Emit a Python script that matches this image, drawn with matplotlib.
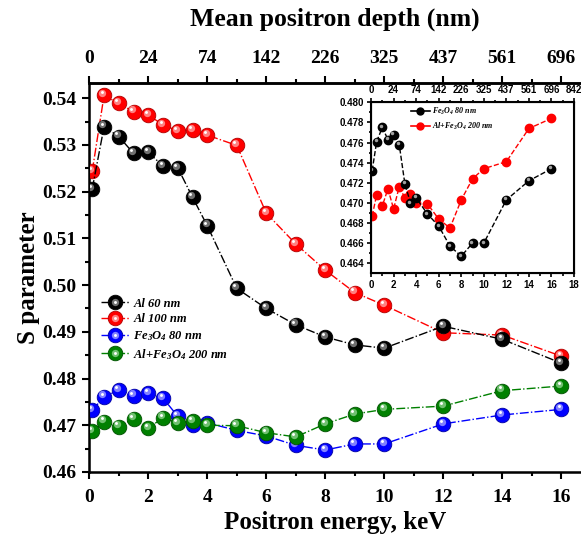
import matplotlib
matplotlib.use("Agg")
import matplotlib.pyplot as plt
from matplotlib.transforms import offset_copy
from matplotlib.legend_handler import HandlerTuple
from matplotlib.lines import Line2D

plt.rcParams['font.family'] = ['Liberation Serif', 'DejaVu Serif']
plt.rcParams['mathtext.default'] = 'regular'

energy = [0.1, 0.5, 1, 1.5, 2, 2.5, 3, 3.5, 4, 5, 6, 7, 8, 9, 10, 12, 14, 16]
al60 = [0.5206, 0.5339, 0.5318, 0.5282, 0.5284, 0.5255, 0.5251, 0.5188, 0.5127,
        0.4993, 0.4950, 0.4915, 0.4889, 0.4872, 0.4865, 0.4912, 0.4884, 0.4833]
al100 = [0.5244, 0.5406, 0.5389, 0.5371, 0.5364, 0.5343, 0.5330, 0.5331, 0.5321,
         0.5299, 0.5154, 0.5088, 0.5032, 0.4984, 0.4957, 0.4898, 0.4893, 0.4848]
fe3o4 = [0.4732, 0.4761, 0.4775, 0.4763, 0.4768, 0.4758, 0.4719, 0.4700, 0.4705,
         0.4689, 0.4677, 0.4657, 0.4647, 0.4660, 0.4660, 0.4703, 0.4722, 0.4734]
alfe = [0.4687, 0.4708, 0.4697, 0.4714, 0.4694, 0.4716, 0.4705, 0.4709, 0.4700,
        0.4699, 0.4684, 0.4675, 0.4703, 0.4724, 0.4734, 0.4741, 0.4774, 0.4784]

labels = ['Al 60 nm', 'Al 100 nm', 'Fe$_{3}$O$_{4}$ 80 nm', 'Al+Fe$_{3}$O$_{4}$ 200 nm']

main_ticks = [0, 2, 4, 6, 8, 10, 12, 14, 16]
depth_labels = ['0', '24', '74', '142', '226', '325', '437', '561', '696']
inset_ticks = [0, 2, 4, 6, 8, 10, 12, 14, 16, 18]
inset_depth_labels = ['0', '24', '74', '142', '226', '325', '437', '561', '696', '842']

fig = plt.figure(figsize=(5.81, 5.44), dpi=100)
ax = fig.add_axes([0.1537, 0.1324, 0.8463, 0.7145])


def sphere(axis, x, y, color, light, dark, ms, ls, z):
    line, = axis.plot(x, y, ls=ls, color=color, lw=1.0, marker='o', ms=ms,
                      mfc=color, mec=dark, mew=0.6, zorder=z)
    tr1 = offset_copy(axis.transData, fig=fig, x=-ms * 0.12, y=ms * 0.16, units='points')
    h1, = axis.plot(x, y, ls='none', marker='o', ms=ms * 0.5, mfc=light, mec='none',
                    transform=tr1, zorder=z + 0.1)
    tr2 = offset_copy(axis.transData, fig=fig, x=-ms * 0.16, y=ms * 0.22, units='points')
    h2, = axis.plot(x, y, ls='none', marker='o', ms=ms * 0.2, mfc='white', mec='none',
                    transform=tr2, zorder=z + 0.2)
    return (line, h1, h2)


h_al100 = sphere(ax, energy, al100, '#ff0000', '#ff8080', '#b00000', 10.5, '-.', 3)
h_al60 = sphere(ax, energy, al60, '#000000', '#707070', '#000000', 10.5, '-.', 4)
h_fe = sphere(ax, energy, fe3o4, '#0000ff', '#8080ff', '#0000a0', 10.5, '-.', 5)
h_alfe = sphere(ax, energy, alfe, '#008000', '#70c070', '#005000', 10.5, '-.', 6)

ax.set_xlim(0, 16.67)
ax.set_ylim(0.46, 0.5432)
ax.set_xticks(main_ticks)
ax.set_xticks([1, 3, 5, 7, 9, 11, 13, 15], minor=True)
ax.set_yticks([0.46, 0.47, 0.48, 0.49, 0.50, 0.51, 0.52, 0.53, 0.54])
ax.set_yticks([0.465, 0.475, 0.485, 0.495, 0.505, 0.515, 0.525, 0.535], minor=True)
ax.set_yticklabels(['0.46', '0.47', '0.48', '0.49', '0.50', '0.51', '0.52', '0.53', '0.54'])
ax.tick_params(which='major', direction='out', length=5, width=1.5, labelsize=14, pad=4)
ax.tick_params(axis='x', which='major', pad=7)
ax.tick_params(which='minor', direction='out', length=3, width=1.5)
for lab in ax.get_xticklabels() + ax.get_yticklabels():
    lab.set_fontweight('bold')
ax.spines['right'].set_visible(False)
for s in ['left', 'bottom', 'top']:
    ax.spines[s].set_linewidth(1.8)
ax.set_xlabel('Positron energy, keV', fontsize=18, fontweight='bold', labelpad=4)
ax.set_ylabel('S parameter', fontsize=18, fontweight='bold', labelpad=2)

top = ax.twiny()
top.set_xlim(ax.get_xlim())
top.set_xticks(main_ticks)
top.set_xticks([1, 3, 5, 7, 9, 11, 13, 15], minor=True)
top.set_xticklabels(depth_labels, fontsize=14, fontweight='bold')
top.tick_params(which='major', direction='out', length=5, width=1.5, pad=7)
top.tick_params(which='minor', direction='out', length=3, width=1.5)
top.spines['right'].set_visible(False)
top.spines['top'].set_linewidth(1.8)
top.set_xlabel('Mean positron depth (nm)', fontsize=18.5, fontweight='bold', labelpad=17)

leg = ax.legend([h_al60, h_al100, h_fe, h_alfe], labels,
                handler_map={tuple: HandlerTuple(ndivide=1)},
                loc='upper left', bbox_to_anchor=(0.165, 0.462), bbox_transform=fig.transFigure,
                frameon=False, prop={'family': 'Liberation Serif', 'weight': 'bold',
                                     'style': 'italic', 'size': 9},
                handlelength=2.3, handletextpad=0.3, labelspacing=0.3, borderaxespad=0)
leg.set_zorder(10)

# inset
ins = fig.add_axes([0.6386, 0.4976, 0.3494, 0.3143])
ins.plot(energy, fe3o4, ls='--', color='black', lw=1.0, marker='o', ms=6,
         mfc='black', mec='black', zorder=4)
tri = offset_copy(ins.transData, fig=fig, x=-0.8, y=1.0, units='points')
ins.plot(energy, fe3o4, ls='none', marker='o', ms=2.5, mfc='#a0a0a0', mec='none',
         transform=tri, zorder=4.1)
ins.plot(energy, alfe, ls='--', color='red', lw=1.0, marker='o', ms=6,
         mfc='red', mec='red', zorder=3)
ins.set_xlim(0, 18)
ins.set_ylim(0.463, 0.480)
ins.set_xticks(inset_ticks)
ins.set_xticks([1, 3, 5, 7, 9, 11, 13, 15, 17], minor=True)
ins.set_yticks([0.464, 0.466, 0.468, 0.470, 0.472, 0.474, 0.476, 0.478, 0.480])
ins.set_yticks([0.465, 0.467, 0.469, 0.471, 0.473, 0.475, 0.477, 0.479], minor=True)
ins.set_yticklabels(['0.464', '0.466', '0.468', '0.470', '0.472', '0.474', '0.476',
                     '0.478', '0.480'])
ins.set_xticklabels([str(t) for t in inset_ticks])
ins.tick_params(which='major', direction='out', length=3, width=1.2, labelsize=7, pad=2)
ins.tick_params(which='minor', direction='out', length=1.8, width=1.2)
for lab in ins.get_xticklabels() + ins.get_yticklabels():
    lab.set_fontweight('bold')
    lab.set_family('Liberation Sans')
for s in ins.spines.values():
    s.set_linewidth(1.5)

itop = ins.twiny()
itop.set_xlim(0, 18)
itop.set_xticks(inset_ticks)
itop.set_xticks([1, 3, 5, 7, 9, 11, 13, 15, 17], minor=True)
itop.set_xticklabels(inset_depth_labels, fontsize=7, fontweight='bold', family='Liberation Sans')
itop.tick_params(which='major', direction='out', length=3, width=1.2, pad=2)
itop.tick_params(which='minor', direction='out', length=1.8, width=1.2)

ih1 = Line2D([], [], ls='-', color='black', lw=1.2, marker='o', ms=5, mfc='black', mec='black')
ih2 = Line2D([], [], ls='-', color='red', lw=1.2, marker='o', ms=5, mfc='red', mec='red')
itop.legend([ih1, ih2], labels[2:], loc='upper left', bbox_to_anchor=(0.702, 0.812),
            bbox_transform=fig.transFigure,
            frameon=False, prop={'family': 'Liberation Serif', 'weight': 'bold',
                                 'style': 'italic', 'size': 5.8},
            handlelength=2.3, handletextpad=0.3, labelspacing=0.5, borderaxespad=0)

fig.savefig('out.png', dpi=100)
